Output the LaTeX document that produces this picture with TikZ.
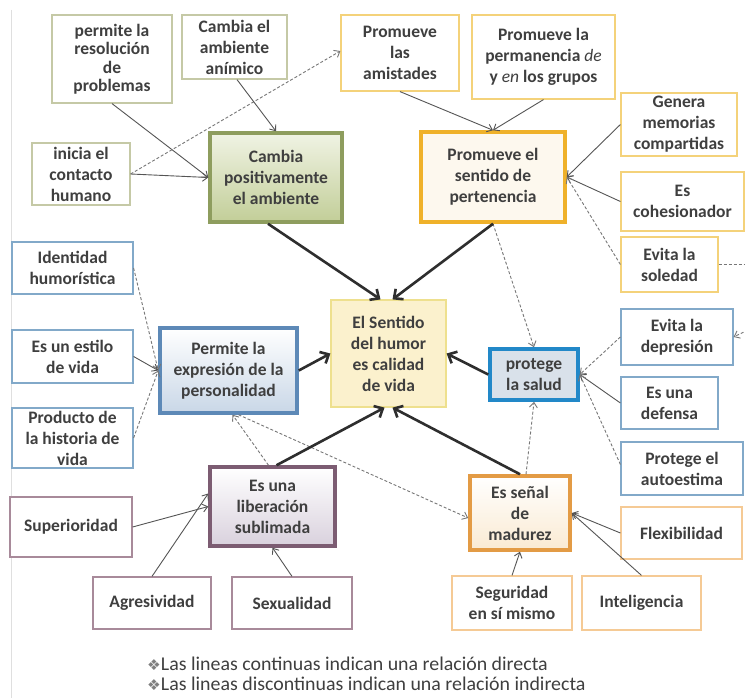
\documentclass[tikz,border=0pt]{standalone}
\usepackage{fontspec}
\setmainfont{Carlito}
\newfontfamily\djv{DejaVu Sans}
\usetikzlibrary{arrows.meta,calc}
\definecolor{txt}{HTML}{3F3F3F}
\definecolor{olvthin}{HTML}{C5C9A6}
\definecolor{olvthick}{HTML}{8E9D5E}
\definecolor{olvtop}{HTML}{F0F3E4}
\definecolor{olvbot}{HTML}{C2CE98}
\definecolor{gldthin}{HTML}{F4D27A}
\definecolor{gldthick}{HTML}{EFB12A}
\definecolor{gldfill}{HTML}{FDF8EE}
\definecolor{bluthin}{HTML}{82A9C9}
\definecolor{bluthick}{HTML}{5D89B7}
\definecolor{blubot}{HTML}{C9D7E7}
\definecolor{salthick}{HTML}{2288C8}
\definecolor{salfill}{HTML}{D9E1EA}
\definecolor{cenfill}{HTML}{FBF1CD}
\definecolor{cenline}{HTML}{EEE08E}
\definecolor{purthin}{HTML}{A88A9A}
\definecolor{purthick}{HTML}{7C5C72}
\definecolor{purbot}{HTML}{D9D1DD}
\definecolor{orathin}{HTML}{F5CA95}
\definecolor{orathick}{HTML}{E39B45}
\definecolor{orabot}{HTML}{FAEAD2}
\definecolor{lnk}{HTML}{555555}
\definecolor{dark}{HTML}{2E2E2E}
\newcommand\mkbox[7]{%
  \pgfmathsetmacro\mbW{#4-#2}\pgfmathsetmacro\mbH{#5-#3}%
  \pgfmathsetmacro\mbX{(#2+#4)/2}\pgfmathsetmacro\mbY{(#3+#5)/2}%
  \node[#6, minimum width=\mbW pt, minimum height=\mbH pt] (#1) at (\mbX,\mbY) {#7};}
\newcommand\legsym{{\djv\color{gray}\fontsize{15}{15}\selectfont ❖}}
\tikzset{
  box/.style={draw, line width=1.2pt, align=center, inner sep=1pt, fill=white,
    font=\bfseries\fontsize{17.5}{21}\selectfont, text=txt},
  bigbox/.style={box, line width=3.5pt},
  ob/.style={box, draw=olvthin}, gb/.style={box, draw=gldthin},
  bb/.style={box, draw=bluthin}, pb/.style={box, draw=purthin},
  rb/.style={box, draw=orathin},
  thin/.style={draw=lnk, line width=0.9pt, -{Straight Barb[length=5pt,width=8pt]}},
  dsh/.style={thin, draw=lnk!80, dash pattern=on 3pt off 2pt},
  thk/.style={draw=dark, line width=2.6pt, -{Straight Barb[length=7pt,width=13pt]}},
  leg/.style={anchor=west, inner sep=0pt, text=txt, font=\fontsize{19.5}{20}\selectfont}
}
\begin{document}
\begin{tikzpicture}[x=1pt,y=-1pt]
\useasboundingbox (0,0) rectangle (745,698);
\fill[white] (0,0) rectangle (745,698);
\draw[gray!25, line width=1pt] (11,10) -- (11,698);
% olive group
\mkbox{res}{52}{15}{172}{103}{ob, font=\bfseries\fontsize{17.5}{18.5}\selectfont}{permite la\\resolución\\de\\problemas}
\mkbox{anim}{182}{15}{287}{79}{ob}{Cambia el\\ambiente\\anímico}
\mkbox{ini}{32}{143}{130}{205}{ob}{inicia el\\contacto\\humano}
\mkbox{camb}{210}{133}{342}{222}{bigbox, draw=olvthick, top color=olvtop, bottom color=olvbot}{Cambia\\positivamente\\el ambiente}
% gold group
\mkbox{amis}{341}{15}{459}{91}{gb}{Promueve\\las\\amistades}
\mkbox{perm}{472}{15}{615}{99}{gb}{Promueve la\\permanencia \textmd{\textit{de}}\\y \textmd{\textit{en}} los grupos}
\mkbox{pert}{421}{132}{565}{222}{bigbox, draw=gldthick, fill=gldfill}{Promueve el\\sentido de\\pertenencia}
\mkbox{gen}{621}{93}{737}{156}{gb}{Genera\\memorias\\compartidas}
\mkbox{coh}{621}{172}{744}{231}{gb}{Es\\cohesionador}
\mkbox{sol}{621}{237}{718}{292}{gb}{Evita la\\soledad}
% blue group
\mkbox{dep}{621}{309}{733}{365}{bb}{Evita la\\depresión}
\mkbox{def}{621}{377}{718}{429}{bb}{Es una\\defensa}
\mkbox{aut}{621}{442}{743}{495}{bb}{Protege el\\autoestima}
\mkbox{ident}{12}{242}{133}{294}{bb}{Identidad\\humorística}
\mkbox{estilo}{12}{330}{133}{383}{bb}{Es un estilo\\de vida}
\mkbox{prod}{12}{408}{133}{468}{bb}{Producto de\\la historia de\\vida}
\mkbox{expr}{160}{328}{297}{413}{bigbox, draw=bluthick, top color=white, bottom color=blubot}{Permite la\\expresión de la\\personalidad}
\mkbox{salud}{490}{349}{578}{400}{bigbox, draw=salthick, fill=salfill}{protege\\la salud}
% center
\mkbox{hum}{331}{300}{446}{407}{box, draw=cenline, fill=cenfill}{El Sentido\\del humor\\es calidad\\de vida}
% purple group
\mkbox{lib}{210}{467}{335}{546}{bigbox, draw=purthick, top color=white, bottom color=purbot}{Es una\\liberación\\sublimada}
\mkbox{sup}{10}{497}{132}{557}{pb}{Superioridad}
\mkbox{agr}{93}{577}{211}{629}{pb}{Agresividad}
\mkbox{sex}{232}{577}{352}{629}{pb}{Sexualidad}
% orange group
\mkbox{mad}{470}{476}{570}{550}{bigbox, draw=orathick, top color=white, bottom color=orabot}{Es señal\\de\\madurez}
\mkbox{flex}{621}{507}{742}{559}{rb}{Flexibilidad}
\mkbox{seg}{452}{576}{572}{630}{rb}{Seguridad\\en sí mismo}
\mkbox{intel}{582}{576}{701}{630}{rb}{Inteligencia}
\coordinate (solout) at (745,264.5);
\coordinate (depin) at (748,330);
% thin connectors
\draw[thin] (res.south) -- (camb.west);
\draw[thin] (ini.east) -- (camb.west);
\draw[dsh] (ini.east) -- ([yshift=2pt]amis.west);
\draw[thin] ([xshift=2.5pt]anim.south) -- (camb.north);
\draw[thin] (amis.south) -- (pert.north);
\draw[thin] (perm.south) -- (pert.north);
\draw[thin] (gen.west) -- (pert.east);
\draw[thin] (coh.west) -- (pert.east);
\draw[dsh] (sol.west) -- (pert.east);
\draw[dsh, -] (sol.east) -- (solout);
\draw[dsh] (pert.south) -- (salud.north);
\draw[dsh] (dep.west) -- (salud.east);
\draw[thin] (def.west) -- (salud.east);
\draw[dsh] ([yshift=4pt]aut.west) -- (salud.east);
\draw[dsh] (depin) -- (dep.east);
\draw[dsh] ([xshift=-4pt]lib.north) -- ([xshift=4pt]expr.south);
\draw[dsh] ([xshift=10pt]expr.south) -- ([yshift=-5pt]mad.west);
\draw[dsh] ([xshift=6pt]mad.north) -- (salud.south);
\draw[dsh] (ident.east) -- (expr.west);
\draw[thin] (estilo.east) -- (expr.west);
\draw[dsh] (prod.east) -- (expr.west);
\draw[thin] (sup.east) -- (lib.west);
\draw[thin] (agr.north) -- ([yshift=13pt]lib.west);
\draw[thin] (sex.north) -- (lib.south);
\draw[thin] (seg.north) -- (mad.south);
\draw[thin] (intel.north) -- (mad.east);
\draw[thin] (flex.west) -- (mad.east);
% thick connectors
\draw[thk] ([xshift=-8pt]camb.south) -- ([xshift=-8pt]hum.north);
\draw[thk] (pert.south) -- ([xshift=4pt]hum.north);
\draw[thk] (expr.east) -- (hum.west);
\draw[thk] (salud.west) -- (hum.east);
\draw[thk] ([xshift=4pt]lib.north) -- ([xshift=-4pt]hum.south);
\draw[thk] (mad.north) -- ([xshift=4pt]hum.south);
% legend
\node[leg] (l1) at (147,664) {\scalebox{1.02}[1]{\legsym Las lineas continuas indican una relación directa}};
\node[leg] (l2) at (147,684) {\scalebox{1.02}[1]{\legsym Las lineas discontinuas indican una relación indirecta}};
\end{tikzpicture}
\end{document}
